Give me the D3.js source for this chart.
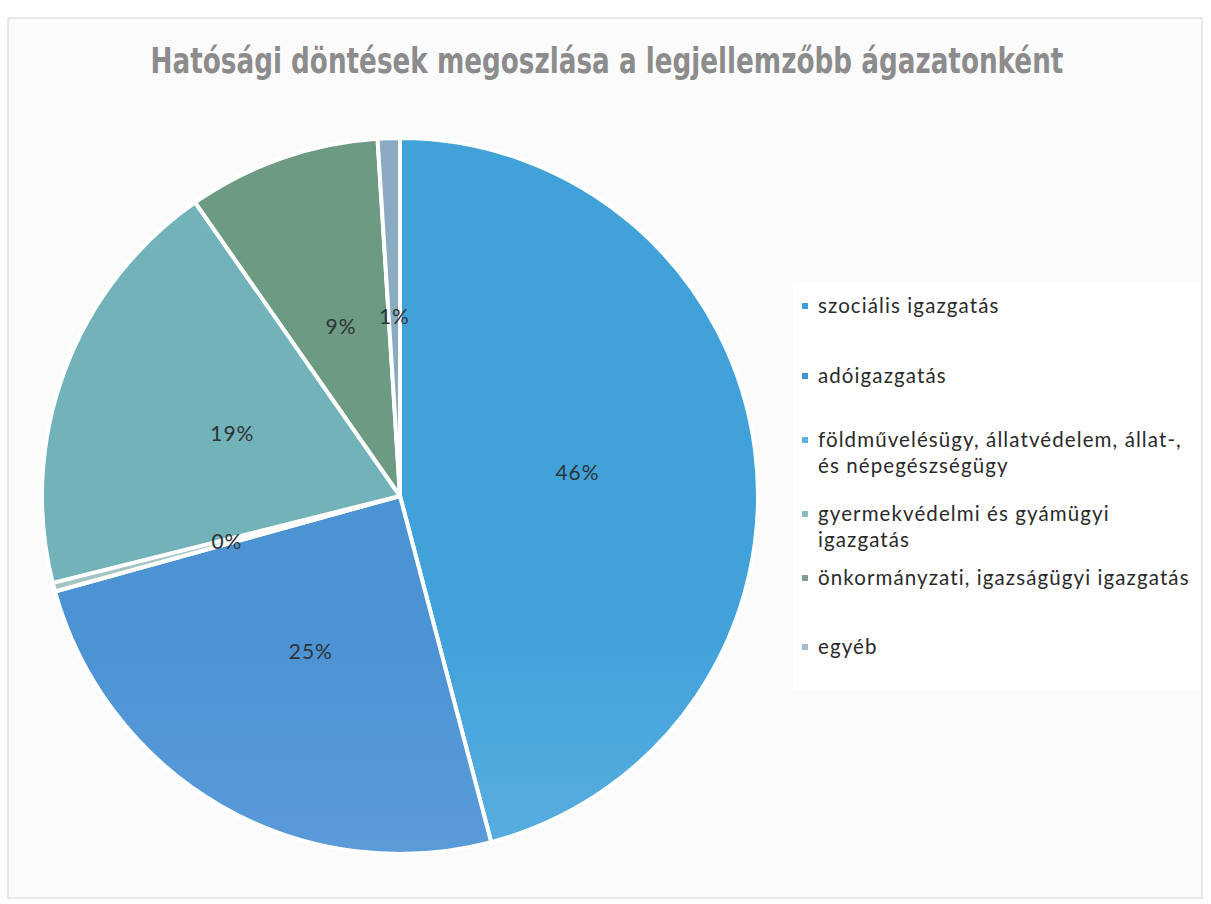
<!DOCTYPE html>
<html>
<head>
<meta charset="utf-8">
<script src="https://cdn.jsdelivr.net/npm/d3@7"></script>
<style>
  body { margin: 0; background: #fff; }
  svg { display: block; }
</style>
</head>
<body>
<svg id="chart" width="1211" height="904"></svg>
<script>
// data (percent of decisions)
const categories = [
  'szociális igazgatás',
  'adóigazgatás',
  'földművelésügy, állatvédelem, állat-, és népegészségügy',
  'gyermekvédelmi és gyámügyi igazgatás',
  'önkormányzati, igazságügyi igazgatás',
  'egyéb'
]
const values = [45.9, 24.8, 0.4, 19.2, 8.7, 1.0]
const legendLines = [
  ['szociális igazgatás'],
  ['adóigazgatás'],
  ['földművelésügy, állatvédelem, állat-,', 'és népegészségügy'],
  ['gyermekvédelmi és gyámügyi', 'igazgatás'],
  ['önkormányzati, igazságügyi igazgatás'],
  ['egyéb']
]
const title = 'Hatósági döntések megoszlása a legjellemzőbb ágazatonként'

// top / bottom colours of each slice gradient
const topColors = ['#41a2da', '#4c93d4', '#a3c6c4', '#72b2b9', '#6c9a83', '#8aabc1']
const bottomColors = ['#92c7ea', '#7aaee2', '#b8d5d3', '#aad1cd', '#97bba7', '#a3bdd2']
const markerColors = ['#3f9fd8', '#4a8fd0', '#5fb2da', '#8bbcc6', '#7f9f8e', '#a2bccd']

const svg = d3.select('#chart')
const cx = 400
const cy = 496
const R = 358

// frame
svg.append('rect')
  .attr('x', 8).attr('y', 18)
  .attr('width', 1194).attr('height', 880)
  .attr('fill', '#fbfbfb')
  .attr('stroke', '#d4d4d4')
  .attr('stroke-width', 1)

// legend backdrop
svg.append('rect')
  .attr('x', 793).attr('y', 282)
  .attr('width', 407).attr('height', 408)
  .attr('fill', '#ffffff')

// condensed bold title (squeezed horizontally)
svg.append('text')
  .attr('transform', 'translate(607,73) scale(0.75,1)')
  .attr('text-anchor', 'middle')
  .style('font-family', '"DejaVu Sans", sans-serif')
  .style('font-weight', 'bold')
  .style('font-size', '35px')
  .style('fill', '#8c8c8c')
  .text(title)

const defs = svg.append('defs')
categories.forEach((c, i) => {
  const g = defs.append('linearGradient')
    .attr('id', 'grad' + i)
    .attr('gradientUnits', 'userSpaceOnUse')
    .attr('x1', 0).attr('y1', cy - R)
    .attr('x2', 0).attr('y2', cy + R)
  g.append('stop').attr('offset', '0%').attr('stop-color', topColors[i])
  g.append('stop').attr('offset', '100%').attr('stop-color', bottomColors[i])
})

const pie = d3.pie().sort(null).value(d => d)
const arc = d3.arc().innerRadius(0).outerRadius(R)
const arcs = pie(values)
const total = d3.sum(values)

const gPie = svg.append('g').attr('transform', `translate(${cx},${cy})`)

gPie.selectAll('path')
  .data(arcs)
  .enter()
  .append('path')
  .attr('d', arc)
  .attr('fill', (d, i) => `url(#grad${i})`)
  .attr('stroke', '#fff')
  .attr('stroke-width', 4)
  .attr('stroke-linejoin', 'round')

gPie.selectAll('text')
  .data(arcs)
  .enter()
  .append('text')
  .attr('transform', d => `translate(${arc.centroid(d)})`)
  .attr('text-anchor', 'middle')
  .attr('dy', '0.35em')
  .style('font-family', 'Lato, "Open Sans", sans-serif')
  .style('font-size', '21px')
  .style('letter-spacing', '1px')
  .style('fill', '#2e3338')
  .text(d => Math.round(d.value / total * 100) + '%')

// legend
const legendY = [306, 376, 440, 514, 578, 647]
const legend = svg.append('g')

const items = legend.selectAll('g')
  .data(categories)
  .enter()
  .append('g')
  .attr('transform', (d, i) => `translate(806, ${legendY[i]})`)

items.append('rect')
  .attr('x', -4).attr('y', -3)
  .attr('width', 6).attr('height', 6)
  .attr('fill', (d, i) => markerColors[i])

items.append('text')
  .attr('x', 12)
  .attr('y', 0)
  .style('font-family', 'Lato, "Open Sans", sans-serif')
  .style('font-size', '20.5px')
  .style('letter-spacing', '1.1px')
  .style('fill', '#2a2a2a')
  .selectAll('tspan')
  .data((d, i) => legendLines[i])
  .enter()
  .append('tspan')
  .attr('x', 12)
  .attr('dy', (d, j) => j === 0 ? '0.35em' : '26px')
  .text(d => d)
</script>
</body>
</html>
